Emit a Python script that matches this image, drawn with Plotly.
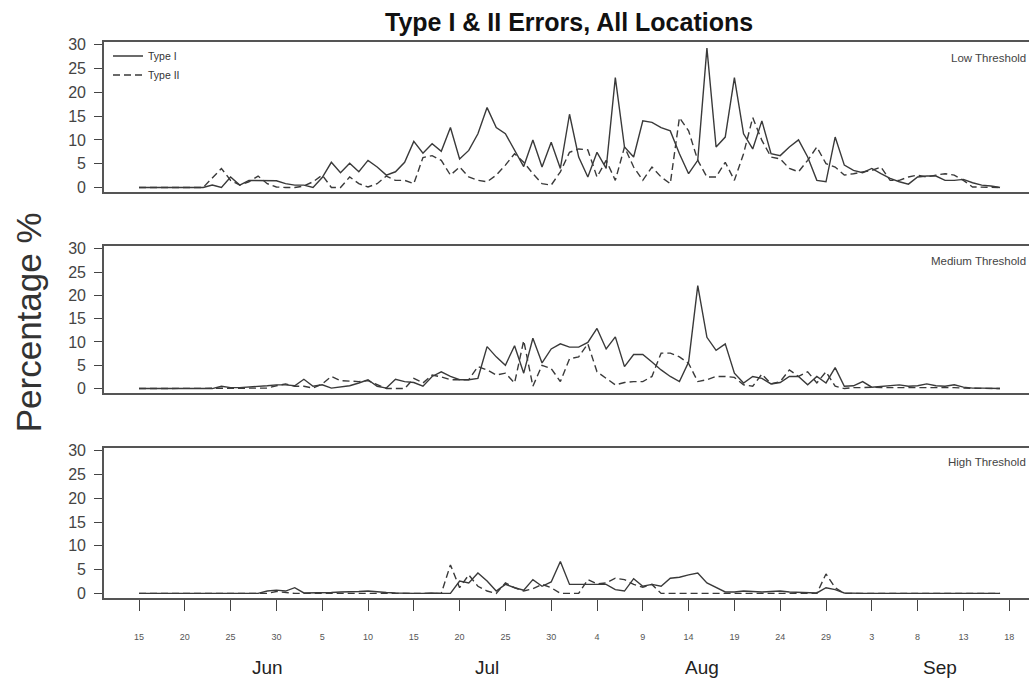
import plotly.graph_objects as go

# ---- data (daily, Jun 15 .. Sep 17; day index 0..94) ----
days = list(range(95))

low_type1 = [0, 0, 0, 0, 0, 0, 0, 0, 0.5, 0, 2.2, 0.5, 1.5, 1.5, 1.5, 1.4, 0.8, 0.5, 0.5, 0,
             2.1, 5.3, 3.1, 5.1, 3.3, 5.7, 4.3, 2.6, 3.3, 5.3, 9.7, 7.2, 9.2, 7.6, 12.6, 6.0, 7.8, 11.3, 16.8, 12.6,
             11.3, 7.8, 4.4, 10.0, 4.3, 9.5, 4.0, 15.4, 6.4, 2.2, 7.4, 4.0, 23.1, 8.5, 6.4, 14.0, 13.7, 12.6, 11.9, 7.1,
             2.9, 5.7, 29.3, 8.5, 10.6, 23.1, 11.3, 8.1, 14.0, 7.1, 6.7, 8.5, 10.0, 6.4, 1.5, 1.2, 10.6, 4.7, 3.6, 3.1,
             4.0, 2.9, 1.9, 1.2, 0.7, 2.2, 2.4, 2.4, 1.5, 1.5, 1.7, 1.0, 0.5, 0.3, 0]
low_type2 = [0, 0, 0, 0, 0, 0, 0, 0, 2.0, 4.0, 1.5, 0.5, 1.2, 2.4, 0.8, 0.1, 0, 0, 0.3, 1.2,
             2.6, 0, 0, 2.2, 0.8, 0.1, 0.8, 2.4, 1.5, 1.5, 0.8, 6.3, 6.7, 5.7, 2.6, 4.3, 2.2, 1.5, 1.2, 2.6,
             4.7, 7.1, 5.3, 2.9, 0.8, 0.5, 3.3, 7.4, 8.1, 7.9, 2.2, 5.7, 1.5, 8.5, 4.3, 1.5, 4.3, 2.2, 0.8, 14.7,
             11.9, 5.7, 2.2, 2.2, 5.3, 1.5, 7.1, 14.7, 9.9, 6.4, 6.0, 4.0, 3.3, 5.7, 8.5, 5.0, 4.3, 2.6, 2.9, 3.3,
             3.6, 4.3, 1.5, 1.5, 2.2, 2.6, 2.2, 2.6, 2.9, 2.6, 1.5, 0.1, 0.1, 0.1, 0]

med_type1 = [0, 0, 0, 0, 0, 0, 0, 0, 0, 0.5, 0.2, 0.2, 0.3, 0.4, 0.6, 0.8, 0.8, 0.6, 2.0, 0.5,
             0.8, 0.1, 0.3, 0.6, 1.2, 1.9, 0.5, 0.1, 2.0, 1.5, 1.3, 0.5, 2.6, 3.6, 2.6, 1.9, 1.9, 2.2, 9.0, 6.8,
             5.0, 9.2, 3.3, 10.8, 5.5, 8.5, 9.6, 8.9, 8.9, 9.9, 12.9, 8.5, 11.1, 4.7, 7.3, 7.3, 5.7, 4.0, 2.6, 1.5,
             5.7, 22.1, 11.0, 8.2, 9.6, 3.3, 1.2, 2.6, 2.2, 1.0, 1.3, 2.6, 2.6, 0.8, 2.6, 1.2, 4.5, 0.5, 0.6, 1.5,
             0.3, 0.5, 0.6, 0.8, 0.5, 0.6, 1.0, 0.6, 0.5, 0.8, 0.3, 0.1, 0.1, 0.1, 0]
med_type2 = [0, 0, 0, 0, 0, 0, 0, 0, 0, 0, 0, 0, 0, 0, 0.1, 0.6, 1.0, 0.5, 0.5, 0.1,
             1.0, 2.6, 1.7, 1.6, 1.5, 1.7, 0.8, 0, 0, 0, 2.2, 1.2, 2.9, 2.5, 1.9, 1.9, 1.9, 4.7, 4.0, 2.9,
             3.3, 1.2, 10.3, 0.5, 5.0, 4.3, 1.5, 6.4, 6.8, 9.6, 3.6, 2.2, 0.8, 1.3, 1.5, 1.5, 2.6, 7.6, 7.6, 6.8,
             5.4, 1.5, 1.9, 2.6, 2.6, 2.4, 0.8, 0.5, 3.1, 1.0, 1.5, 4.0, 2.6, 3.6, 1.2, 3.6, 0.5, 0, 0.2, 0.2,
             0.3, 0.2, 0.2, 0.3, 0.2, 0.2, 0.3, 0.2, 0.2, 0.2, 0.1, 0.1, 0.1, 0.1, 0]

high_type1 = [0, 0, 0, 0, 0, 0, 0, 0, 0, 0, 0, 0, 0, 0, 0.5, 0.7, 0.5, 1.2, 0.1, 0.1,
              0.1, 0.2, 0.3, 0.3, 0.4, 0.5, 0.3, 0.2, 0.1, 0, 0, 0, 0.1, 0, 0, 2.6, 2.2, 4.3, 2.6, 0.5,
              1.9, 1.2, 0.7, 2.9, 1.5, 2.4, 6.7, 1.9, 1.9, 2.0, 1.9, 1.9, 0.8, 0.5, 3.1, 1.5, 1.9, 1.5, 3.2, 3.4,
              3.9, 4.3, 2.2, 1.2, 0.3, 0.3, 0.5, 0.4, 0.3, 0.4, 0.5, 0.3, 0.2, 0.2, 0.1, 1.2, 0.8, 0.1, 0, 0,
              0, 0, 0, 0, 0, 0, 0, 0, 0, 0, 0, 0, 0, 0, 0]
high_type2 = [0, 0, 0, 0, 0, 0, 0, 0, 0, 0, 0, 0, 0, 0, 0, 0.4, 0.2, 0, 0, 0,
              0, 0, 0, 0, 0, 0, 0, 0, 0, 0, 0, 0, 0, 0, 6.0, 1.2, 3.9, 1.5, 0.5, 0,
              2.2, 1.2, 0.5, 1.0, 1.9, 1.2, 0, 0, 0, 2.9, 2.0, 2.2, 3.2, 2.9, 1.9, 1.3, 1.9, 0, 0, 0,
              0, 0, 0, 0, 0, 0, 0, 0, 0, 0, 0, 0, 0, 0, 0, 4.1, 1.2, 0, 0, 0,
              0, 0, 0, 0, 0, 0, 0, 0, 0, 0, 0, 0, 0, 0, 0]

x_tick_days = [0, 5, 10, 15, 20, 25, 30, 35, 40, 45, 50, 55, 60, 65, 70, 75, 80, 85, 90, 95]
x_tick_text = ["15", "20", "25", "30", "5", "10", "15", "20", "25", "30",
               "4", "9", "14", "19", "24", "29", "3", "8", "13", "18"]
month_names = ["Jun", "Jul", "Aug", "Sep"]
month_label_days = [14.0, 38.0, 61.5, 87.4]
y_ticks = [0, 5, 10, 15, 20, 25, 30]
panel_names = ["Low Threshold", "Medium Threshold", "High Threshold"]

# ---- layout helpers ----
W, H = 1029, 681
def py(px):
    return 1 - px / H

panel_px = [(37, 189), (244, 393), (449, 601)]
x_left_px = 104
px_per_day = 9.16
x0 = -(139 - x_left_px) / px_per_day
x1 = x0 + (W - x_left_px) / px_per_day

line_col = "#3a3a3a"
fig = go.Figure()

series = [(low_type1, low_type2), (med_type1, med_type2), (high_type1, high_type2)]
for i, (t1, t2) in enumerate(series):
    ax = "" if i == 0 else str(i + 1)
    fig.add_trace(go.Scatter(x=days, y=t1, mode="lines", name="Type I",
                             line=dict(color=line_col, width=1.4),
                             xaxis="x" + ax, yaxis="y" + ax, showlegend=(i == 0)))
    fig.add_trace(go.Scatter(x=days, y=t2, mode="lines", name="Type II",
                             line=dict(color=line_col, width=1.4, dash="7px,4px"),
                             xaxis="x" + ax, yaxis="y" + ax, showlegend=(i == 0)))

layout = dict(
    width=W, height=H,
    margin=dict(l=0, r=0, t=0, b=0),
    paper_bgcolor="white", plot_bgcolor="white",
    font=dict(family="Liberation Sans, Arial, sans-serif", color="#222"),
    showlegend=True,
    legend=dict(x=108 / W, y=py(36), xanchor="left", yanchor="top",
                bgcolor="rgba(0,0,0,0)", font=dict(size=10.5, color="#333"),
                itemwidth=30, tracegroupgap=0),
)
for i, (tp, bp) in enumerate(panel_px):
    ax = "" if i == 0 else str(i + 1)
    is_bottom = (i == 2)
    layout["xaxis" + ax] = dict(
        domain=[x_left_px / W, 1.0], range=[x0, x1], anchor="y" + ax,
        showline=True, linecolor="#555", linewidth=1.6, mirror=True,
        showgrid=False, zeroline=False,
        tickmode="array", tickvals=x_tick_days, ticktext=x_tick_text,
        ticks="outside" if is_bottom else "", ticklen=11, tickwidth=1.3, tickcolor="#444",
        showticklabels=is_bottom, tickfont=dict(size=9, color="#555"),
        ticklabelstandoff=18,
    )
    layout["yaxis" + ax] = dict(
        domain=[py(bp), py(tp)], range=[-1.0, 30.5], anchor="x" + ax,
        showline=True, linecolor="#555", linewidth=1.6, mirror=False,
        showgrid=False, zeroline=False,
        tickmode="array", tickvals=y_ticks,
        ticks="outside", ticklen=8, tickwidth=1.3, tickcolor="#444",
        tickfont=dict(size=16, color="#444"), ticklabelstandoff=5,
    )
fig.update_layout(**layout)

annotations = [
    dict(text="<b>Type I &amp; II Errors, All Locations</b>", x=569 / W, y=py(16),
         xref="paper", yref="paper", showarrow=False, font=dict(size=25, color="#111"),
         xanchor="center", yanchor="middle"),
    dict(text="Percentage %", x=28 / W, y=py(321), xref="paper", yref="paper",
         showarrow=False, textangle=-90, font=dict(size=35, color="#333"),
         xanchor="center", yanchor="middle"),
]
label_y_px = [53, 259, 463]
for name, ypx in zip(panel_names, label_y_px):
    annotations.append(dict(text=name, x=1028 / W, y=py(ypx), xref="paper", yref="paper",
                            showarrow=False, font=dict(size=11.5, color="#444"),
                            xanchor="right", yanchor="middle"))
for name, d in zip(month_names, month_label_days):
    annotations.append(dict(text=name, x=d, y=py(671), xref="x3", yref="paper",
                            showarrow=False, font=dict(size=19, color="#222"),
                            xanchor="center", yanchor="middle"))
fig.update_layout(annotations=annotations)

fig.write_html(
    "out.html",
    config={"displayModeBar": False},
    post_script="document.body.style.margin='0';document.body.style.overflow='hidden';",
)
